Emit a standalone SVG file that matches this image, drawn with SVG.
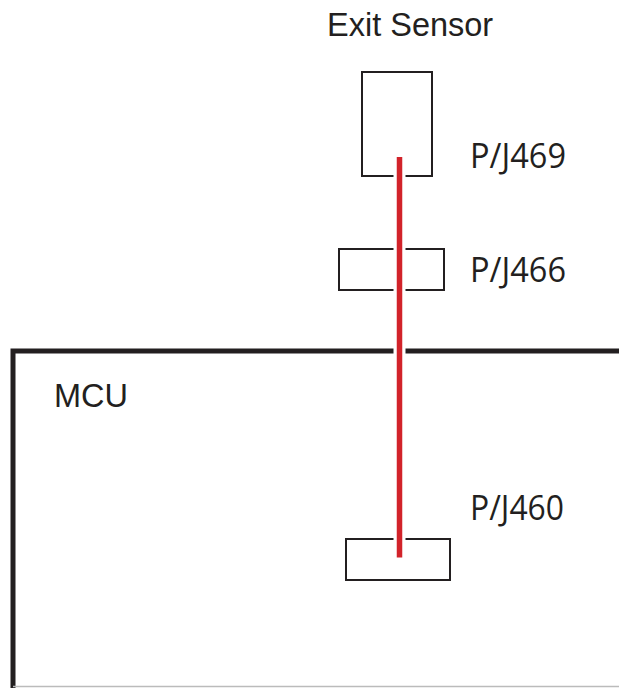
<svg xmlns="http://www.w3.org/2000/svg" width="619" height="688" viewBox="0 0 619 688">
<style>
.box{fill:none;stroke:#231f20;stroke-width:2}
.lbl{font-family:"Liberation Sans",Arial,sans-serif;font-size:32.5px;fill:#231f20}
.pj{font-family:"Open Sans","Noto Sans",sans-serif;font-size:35px;fill:#231f20}
.wire{stroke:#d2232a;stroke-width:5.5;fill:none}
.casing{stroke:#ffffff;stroke-width:12;fill:none}
</style>
<rect width="619" height="688" fill="#ffffff"/>
<g id="mcu">
<path d="M13 700 V351 H630" fill="none" stroke="#231f20" stroke-width="5"/>
<line x1="13" y1="686.5" x2="619" y2="686.5" stroke="#bbbbbb" stroke-width="1.5"/>
<text class="lbl" x="54" y="407">MCU</text>
</g>
<g id="exit-sensor">
<text class="lbl" x="327" y="36">Exit Sensor</text>
<rect class="box" x="362" y="72" width="70" height="104"/>
<text class="pj" x="470" y="168" textLength="96" lengthAdjust="spacingAndGlyphs">P/J469</text>
</g>
<g id="pj466">
<rect class="box" x="339" y="249" width="105" height="41"/>
<text class="pj" x="470" y="282" textLength="96" lengthAdjust="spacingAndGlyphs">P/J466</text>
</g>
<g id="pj460">
<rect class="box" x="346" y="539" width="104" height="41"/>
<text class="pj" x="470" y="520" textLength="94" lengthAdjust="spacingAndGlyphs">P/J460</text>
</g>
<g id="connectors">
<line class="casing" x1="399.5" y1="160" x2="399.5" y2="554"/>
<line class="wire" x1="399.5" y1="157" x2="399.5" y2="557.5"/>
</g>
</svg>
